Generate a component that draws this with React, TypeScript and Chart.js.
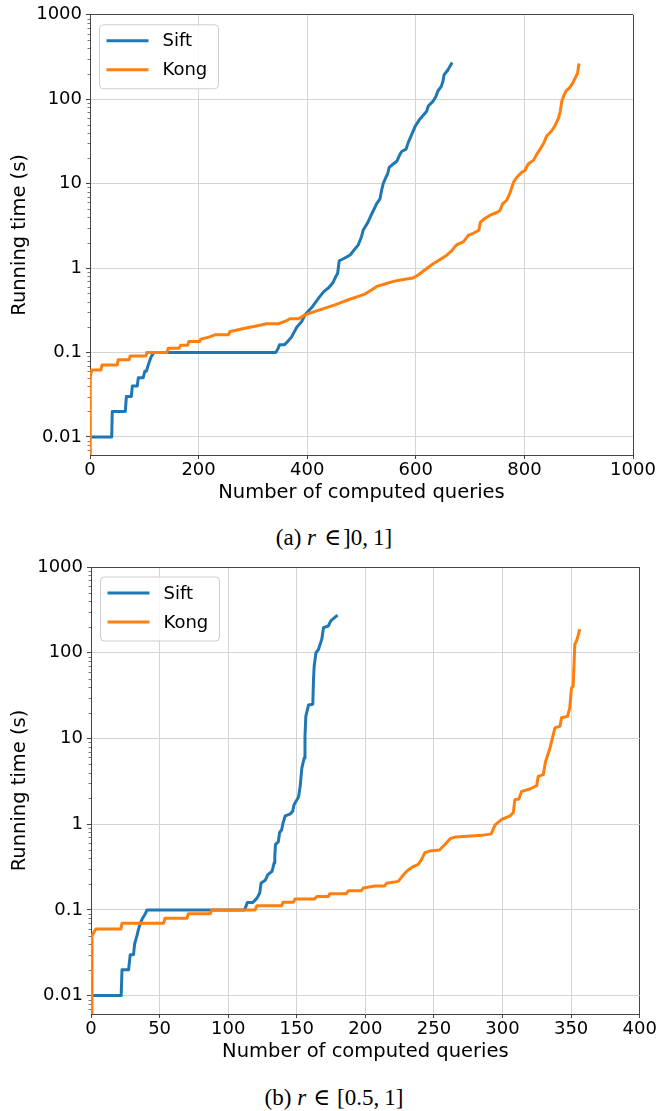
import React, { useEffect, useRef } from 'react';
import { Chart, registerables } from 'chart.js';

Chart.register(...registerables);

// ---------- data ----------
const SERIES_LABELS = ['Sift', 'Kong'];
const SERIES_COLORS = ['#1f77b4', '#ff7f0e'];

const Y_TICKS = [0.01, 0.1, 1, 10, 100, 1000];
const Y_MIN = 0.0061;
const Y_MAX = 1000;
const MINOR_MULTS = [2, 3, 4, 5, 6, 7, 8, 9];

const X_MAX_A = 1000;
const X_STEP_A = 200;
const X_MAX_B = 400;
const X_STEP_B = 50;

const X_TITLE = 'Number of computed queries';
const Y_TITLE = 'Running time (s)';

// (a) r in ]0,1]
const SIFT_A: [number, number][] = [
  [0, 0.01], [40, 0.01], [41, 0.02], [65, 0.02], [67, 0.03], [76, 0.03], [78, 0.04], [87, 0.04],
  [89, 0.05], [98, 0.05], [101, 0.06], [104, 0.06], [107, 0.07], [110, 0.08], [113, 0.09], [118, 0.1],
  [342, 0.1], [346, 0.11], [349, 0.123], [358, 0.123], [364, 0.135], [371, 0.152], [381, 0.2],
  [390, 0.233], [396, 0.279], [410, 0.351], [422, 0.449], [431, 0.53], [439, 0.58], [447, 0.664],
  [453, 0.8], [456, 0.86], [459, 1.22], [466, 1.28], [479, 1.43], [494, 1.88], [500, 2.35],
  [503, 2.8], [512, 3.5], [519, 4.4], [528, 5.8], [534, 6.6], [537, 8.3], [540, 10], [545, 11.9],
  [548, 13], [551, 15.6], [556, 16.6], [565, 18.4], [571, 22.4], [574, 24], [582, 25.6], [586, 30.6],
  [590, 35], [599, 48], [607, 57.6], [620, 72], [623, 83], [632, 95], [637, 108], [641, 126],
  [647, 142], [650, 163], [652, 194], [659, 222], [667, 272],
];

const KONG_A: [number, number][] = [
  [0, 0.005], [0.5, 0.05], [3, 0.062], [20, 0.062], [22, 0.071], [50, 0.071], [52, 0.082], [72, 0.082],
  [74, 0.091], [103, 0.091], [105, 0.1], [142, 0.1], [144, 0.112], [164, 0.112], [167, 0.122],
  [180, 0.122], [182, 0.135], [202, 0.135], [204, 0.144], [219, 0.152], [230, 0.162], [255, 0.162],
  [258, 0.177], [273, 0.186], [285, 0.194], [304, 0.204], [325, 0.219], [347, 0.219], [359, 0.233],
  [368, 0.251], [384, 0.251], [396, 0.279], [420, 0.315], [433, 0.335], [451, 0.367], [463, 0.392],
  [476, 0.421], [494, 0.461], [506, 0.491], [519, 0.553], [528, 0.606], [543, 0.646], [559, 0.695],
  [574, 0.727], [595, 0.761], [605, 0.834], [617, 0.955], [632, 1.125], [644, 1.255], [657, 1.42],
  [666, 1.6], [675, 1.88], [688, 2.06], [697, 2.46], [706, 2.58], [716, 2.8], [719, 3.5], [727, 3.86],
  [736, 4.2], [749, 4.55], [755, 4.8], [760, 5.8], [767, 6.3], [773, 7.6], [780, 10.4], [786, 11.9],
  [795, 13.6], [801, 14.3], [807, 17.1], [817, 19], [823, 22.4], [829, 25.6], [836, 30.6], [841, 36.7],
  [850, 42], [856, 48], [863, 60], [866, 72], [869, 95], [872, 108], [877, 126], [883, 136], [889, 155],
  [895, 186], [898, 204], [900, 254], [902, 262],
];

// (b) r in [0.5,1]
const SIFT_B: [number, number][] = [
  [0, 0.01], [22, 0.01], [22.6, 0.02], [27.4, 0.02], [28.6, 0.03], [31, 0.03], [31.8, 0.04],
  [33.5, 0.05], [34.7, 0.06], [36, 0.07], [37.6, 0.08], [39.6, 0.09], [40.8, 0.1], [112, 0.1],
  [114, 0.122], [118, 0.122], [121, 0.137], [123, 0.157], [124, 0.206], [127, 0.221], [129, 0.258],
  [132, 0.282], [133.5, 0.354], [134, 0.424], [134.5, 0.58], [136.5, 0.62], [137.5, 0.8], [139, 0.86],
  [140, 1.03], [141.6, 1.25], [145, 1.31], [147, 1.41], [148, 1.68], [151.3, 2.07], [152.5, 2.76],
  [153.7, 4.5], [155.4, 5.9], [156, 10.6], [156.6, 18.1], [158.6, 24.6], [161.7, 25], [162.2, 48.8],
  [162.7, 70], [164, 100], [165.8, 109], [168.2, 143], [169.5, 196], [173, 205], [174.8, 235],
  [179.7, 274],
];

const KONG_B: [number, number][] = [
  [0, 0.005], [0.7, 0.05], [3.6, 0.06], [21.8, 0.06], [22.6, 0.07], [53, 0.07], [54, 0.08], [70, 0.08],
  [71, 0.09], [87, 0.09], [88, 0.1], [119.7, 0.1], [121, 0.112], [139, 0.112], [140, 0.123],
  [147.6, 0.123], [148.8, 0.134], [163, 0.134], [164.6, 0.143], [173, 0.143], [174, 0.154], [186, 0.154],
  [187.6, 0.167], [197, 0.167], [198.5, 0.18], [207, 0.19], [214, 0.19], [215.5, 0.205], [224, 0.215],
  [226, 0.236], [229, 0.27], [231, 0.29], [235, 0.32], [238.6, 0.34], [241, 0.388], [243.4, 0.465],
  [247, 0.485], [254, 0.5], [258, 0.58], [262, 0.68], [266, 0.71], [285, 0.74], [291.7, 0.77],
  [294.6, 0.98], [299.4, 1.14], [305.5, 1.25], [307.9, 1.37], [309, 1.93], [311.9, 1.96], [313.9, 2.41],
  [320, 2.57], [324.9, 2.81], [326, 3.61], [329.7, 3.78], [331.4, 5.4], [334.6, 7.75], [338.2, 13.3],
  [341.9, 13.9], [343, 17.4], [347.4, 18.1], [349, 22.7], [350.3, 38.8], [351.5, 40.6], [352.7, 125],
  [353.9, 137], [355, 156], [356.3, 188],
];

// ---------- styling ----------
const FONT = '"DejaVu Sans", sans-serif';
const SPINE = '#444444';
const GRID = '#d4d4d4';
const TITLE_SIZE = 19.5;

const insideLegend = {
  id: 'insideLegend',
  afterDatasetsDraw(chart: any) {
    const { ctx, chartArea } = chart;
    const x0 = chartArea.left + 9.5;
    const y0 = chartArea.top + 10;
    const w = 119;
    const h = 64;
    ctx.save();
    ctx.beginPath();
    if (ctx.roundRect) ctx.roundRect(x0, y0, w, h, 4);
    else ctx.rect(x0, y0, w, h);
    ctx.fillStyle = 'rgba(255,255,255,0.8)';
    ctx.fill();
    ctx.strokeStyle = '#cccccc';
    ctx.lineWidth = 1;
    ctx.stroke();
    chart.data.datasets.forEach((ds: any, i: number) => {
      const y = y0 + 16 + i * 29;
      ctx.beginPath();
      ctx.moveTo(x0 + 7, y);
      ctx.lineTo(x0 + 49, y);
      ctx.strokeStyle = ds.borderColor;
      ctx.lineWidth = 3;
      ctx.stroke();
      ctx.fillStyle = '#000';
      ctx.font = `18px ${FONT}`;
      ctx.textBaseline = 'middle';
      ctx.textAlign = 'left';
      ctx.fillText(ds.label, x0 + 63, y + 1);
    });
    ctx.restore();
  },
};

const minorTicks = {
  id: 'minorTicks',
  afterDraw(chart: any) {
    const ys = chart.scales.y;
    const { ctx } = chart;
    ctx.save();
    ctx.strokeStyle = '#555';
    ctx.lineWidth = 0.8;
    for (let e = -3; e <= 3; e++) {
      for (const m of MINOR_MULTS) {
        const v = m * Math.pow(10, e);
        if (v < ys.min || v > ys.max) continue;
        const py = Math.round(ys.getPixelForValue(v)) + 0.5;
        ctx.beginPath();
        ctx.moveTo(ys.right - 2.5, py);
        ctx.lineTo(ys.right, py);
        ctx.stroke();
      }
    }
    ctx.restore();
  },
};

type PanelProps = {
  sift: [number, number][];
  kong: [number, number][];
  xMax: number;
  xStep: number;
  top: number;
  height: number;
  padTop: number;
  padRight: number;
  yWidth: number;
};

function Panel(p: PanelProps) {
  const ref = useRef<HTMLCanvasElement | null>(null);
  useEffect(() => {
    if (!ref.current) return;
    const series = [p.sift, p.kong];
    const chart = new Chart(ref.current, {
      type: 'line',
      data: {
        datasets: series.map((pts, i) => ({
          label: SERIES_LABELS[i],
          data: pts.map(([x, y]) => ({ x, y })),
          borderColor: SERIES_COLORS[i],
          backgroundColor: SERIES_COLORS[i],
          borderWidth: 3,
          pointRadius: 0,
          tension: 0,
          borderJoinStyle: 'round',
          order: i === 0 ? 1 : 0,
        })),
      },
      options: {
        responsive: false,
        maintainAspectRatio: false,
        animation: false,
        layout: { padding: { top: p.padTop, right: p.padRight, left: 0, bottom: 0 } },
        plugins: { legend: { display: false }, tooltip: { enabled: false } },
        scales: {
          x: {
            type: 'linear',
            min: 0,
            max: p.xMax,
            ticks: {
              stepSize: p.xStep,
              callback: (v: any) => String(v),
              color: '#000',
              font: { family: FONT, size: 18 },
              padding: 1,
              maxRotation: 0,
              autoSkip: false,
            },
            grid: {
              color: (c: any) => (c.tick && c.tick.value === p.xMax ? SPINE : GRID),
              tickColor: SPINE,
              tickLength: 4,
              lineWidth: 1,
            },
            border: { color: SPINE, width: 1 },
            title: {
              display: true,
              text: X_TITLE,
              color: '#000',
              font: { family: FONT, size: TITLE_SIZE },
              padding: { top: 0, bottom: 15 },
            },
            afterFit: (s: any) => {
              s.height = 65;
            },
          },
          y: {
            type: 'logarithmic',
            min: Y_MIN,
            max: Y_MAX,
            afterBuildTicks: (s: any) => {
              s.ticks = Y_TICKS.map((v) => ({ value: v }));
            },
            ticks: {
              callback: (v: any) => String(v),
              color: '#000',
              font: { family: FONT, size: 18 },
              padding: 4,
              autoSkip: false,
            },
            grid: {
              color: (c: any) => (c.tick && c.tick.value === Y_MAX ? SPINE : GRID),
              tickColor: SPINE,
              tickLength: 4,
              lineWidth: 1,
            },
            border: { color: SPINE, width: 1 },
            title: {
              display: true,
              text: Y_TITLE,
              color: '#000',
              font: { family: FONT, size: TITLE_SIZE },
              padding: { top: 8, bottom: 0 },
            },
            afterFit: (s: any) => {
              s.width = p.yWidth;
            },
          },
        },
      } as any,
      plugins: [insideLegend, minorTicks],
    });
    return () => chart.destroy();
  }, []);
  return (
    <canvas
      ref={ref}
      width={659}
      height={p.height}
      style={{ position: 'absolute', left: 0, top: p.top, width: 659, height: p.height }}
    />
  );
}

const captionStyle = (top: number): React.CSSProperties => ({
  position: 'absolute',
  top,
  left: 9,
  width: 650,
  textAlign: 'center',
  fontFamily: '"Liberation Serif", "DejaVu Serif", serif',
  fontSize: 23,
  lineHeight: '24px',
  color: '#000',
  whiteSpace: 'nowrap',
});

export default function App() {
  return (
    <div style={{ position: 'absolute', left: 0, top: 0, width: 659, height: 1111, background: '#fff', overflow: 'hidden' }}>
      <Panel sift={SIFT_A} kong={KONG_A} xMax={X_MAX_A} xStep={X_STEP_A} top={0} height={520} padTop={14.3} padRight={26} yWidth={90} />
      <div style={captionStyle(526)}>
        (a)&nbsp;<i>r</i>
        <span style={{ marginLeft: 8, marginRight: 2 }}>∈</span>]0,<span style={{ marginLeft: 5 }}>1</span>]
      </div>
      <Panel sift={SIFT_B} kong={KONG_B} xMax={X_MAX_B} xStep={X_STEP_B} top={552} height={527} padTop={15} padRight={19.3} yWidth={91} />
      <div style={captionStyle(1086)}>
        (b)&nbsp;<i>r</i>
        <span style={{ marginLeft: 7, marginRight: 7 }}>∈</span>[0.5,<span style={{ marginLeft: 5 }}>1</span>]
      </div>
    </div>
  );
}
